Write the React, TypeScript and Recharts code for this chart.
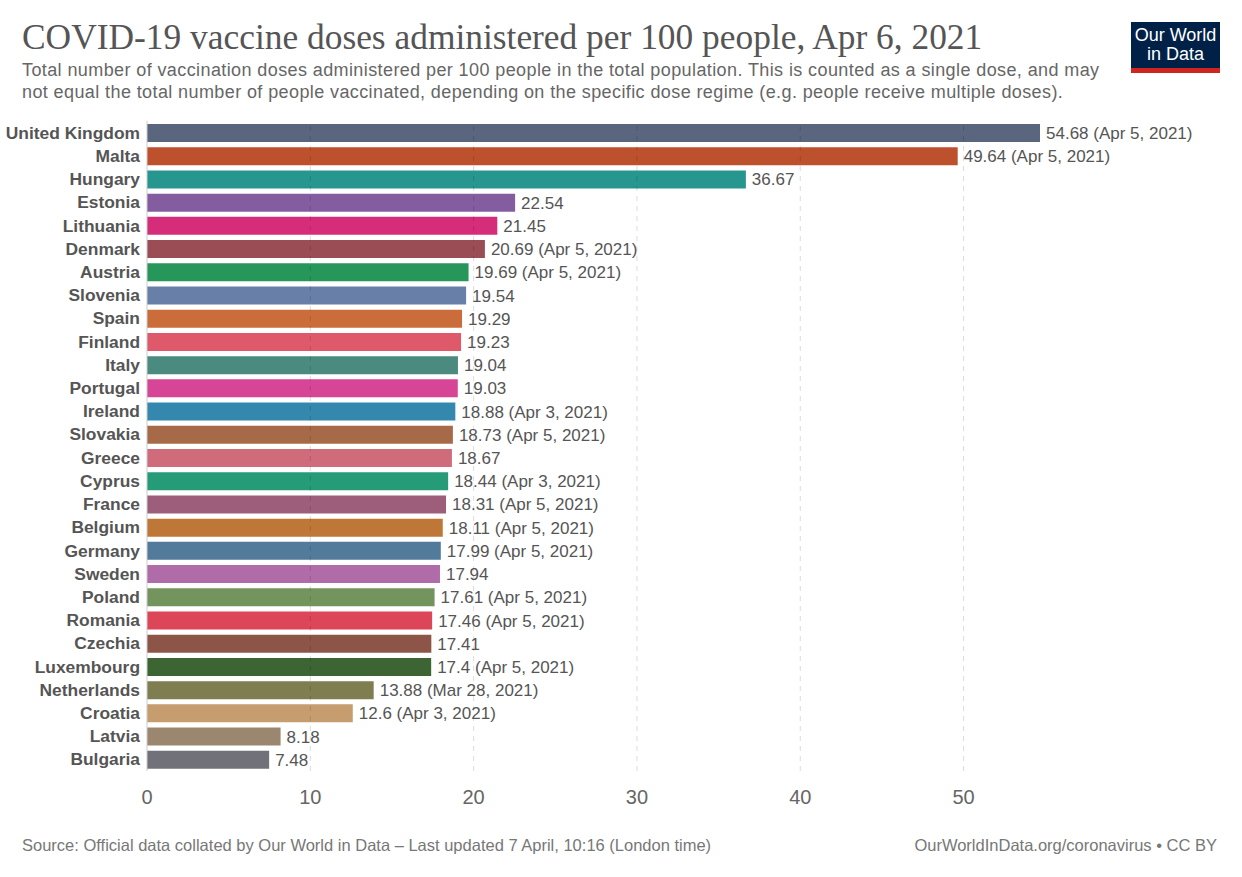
import React from 'react';
import {
  BarChart,
  Bar,
  XAxis,
  YAxis,
  LabelList,
  Cell,
  ReferenceLine
} from 'recharts';

const countries = [
  'United Kingdom', 'Malta', 'Hungary', 'Estonia', 'Lithuania', 'Denmark', 'Austria',
  'Slovenia', 'Spain', 'Finland', 'Italy', 'Portugal', 'Ireland', 'Slovakia', 'Greece',
  'Cyprus', 'France', 'Belgium', 'Germany', 'Sweden', 'Poland', 'Romania', 'Czechia',
  'Luxembourg', 'Netherlands', 'Croatia', 'Latvia', 'Bulgaria'
];

const doses = [
  54.68, 49.64, 36.67, 22.54, 21.45, 20.69, 19.69,
  19.54, 19.29, 19.23, 19.04, 19.03, 18.88, 18.73, 18.67,
  18.44, 18.31, 18.11, 17.99, 17.94, 17.61, 17.46, 17.41,
  17.4, 13.88, 12.6, 8.18, 7.48
];

const dates = [
  'Apr 5, 2021', 'Apr 5, 2021', '', '', '', 'Apr 5, 2021', 'Apr 5, 2021',
  '', '', '', '', '', 'Apr 3, 2021', 'Apr 5, 2021', '',
  'Apr 3, 2021', 'Apr 5, 2021', 'Apr 5, 2021', 'Apr 5, 2021', '', 'Apr 5, 2021', 'Apr 5, 2021', '',
  'Apr 5, 2021', 'Mar 28, 2021', 'Apr 3, 2021', '', ''
];

const colors = [
  '#59667e', '#be512d', '#26968f', '#845ca0', '#d62d7a', '#9a4d55', '#27965a',
  '#6880a8', '#cb6d3a', '#de5a6b', '#4b8a7e', '#d64596', '#3487ad', '#a66a48', '#cf6b7b',
  '#269b78', '#9c5e7b', '#bf7737', '#527a9b', '#b06ca8', '#73955d', '#dd4558', '#8c5547',
  '#3d6433', '#7f7e50', '#c69d6f', '#9b8770', '#707179'
];

const xTicks = [0, 10, 20, 30, 40, 50];

const data = countries.map((name, i) => ({
  name,
  value: doses[i],
  label: dates[i] ? `${doses[i]} (${dates[i]})` : `${doses[i]}`
}));

const sans = '"Liberation Sans", Arial, Helvetica, sans-serif';

const CountryTick = (props: any) => {
  const { y, payload } = props;
  return (
    <text
      x={140}
      y={y}
      dy="0.35em"
      textAnchor="end"
      fontFamily={sans}
      fontSize={17.4}
      fontWeight="bold"
      fill="#555"
    >
      {payload.value}
    </text>
  );
};

const ValueTick = (props: any) => {
  const { x, y, payload } = props;
  return (
    <text x={x} y={y + 25} textAnchor="middle" fontFamily={sans} fontSize={20} fill="#666">
      {payload.value}
    </text>
  );
};

export default function App() {
  return (
    <div style={{ position: 'absolute', top: 0, left: 0, width: 1242, height: 877, background: '#fff' }}>
      <div
        style={{
          position: 'absolute',
          left: 22,
          top: 16,
          fontFamily: '"Liberation Serif", "DejaVu Serif", serif',
          fontSize: 35.4,
          color: '#555',
          whiteSpace: 'nowrap'
        }}
      >
        COVID-19 vaccine doses administered per 100 people, Apr 6, 2021
      </div>
      <div
        style={{
          position: 'absolute',
          left: 22,
          top: 59,
          fontFamily: sans,
          fontSize: 18,
          letterSpacing: 0.4,
          lineHeight: '22px',
          color: '#666',
          whiteSpace: 'nowrap'
        }}
      >
        Total number of vaccination doses administered per 100 people in the total population. This is counted as a single dose, and may
        <br />
        not equal the total number of people vaccinated, depending on the specific dose regime (e.g. people receive multiple doses).
      </div>

      <div
        style={{
          position: 'absolute',
          left: 1131,
          top: 22,
          width: 89,
          height: 51,
          background: '#002147',
          borderBottom: '5px solid #ce261e',
          boxSizing: 'border-box',
          color: '#fff',
          fontFamily: sans,
          fontSize: 18,
          lineHeight: '19px',
          textAlign: 'center',
          paddingTop: 4
        }}
      >
        Our World
        <br />
        in Data
      </div>

      <div style={{ position: 'absolute', left: 0, top: 0 }}>
        <BarChart
          width={1242}
          height={877}
          data={data}
          layout="vertical"
          margin={{ top: 121, right: 202, bottom: 66, left: 0 }}
        >
          <XAxis
            type="number"
            dataKey="value"
            domain={[0, 'dataMax']}
            ticks={xTicks}
            axisLine={false}
            tickLine={false}
            height={40}
            tick={<ValueTick />}
          />
          <YAxis
            type="category"
            dataKey="name"
            width={147}
            axisLine={{ stroke: '#cccccc' }}
            tickLine={false}
            interval={0}
            tick={<CountryTick />}
          />
          <Bar dataKey="value" barSize={18} isAnimationActive={false}>
            {data.map((d, i) => (
              <Cell key={d.name} fill={colors[i]} />
            ))}
            <LabelList
              dataKey="label"
              position="right"
              offset={6}
              fontFamily={sans}
              fontSize={17}
              fill="#555"
            />
          </Bar>
          {xTicks.slice(1).map((t) => (
            <ReferenceLine
              key={t}
              x={t}
              stroke="#000"
              strokeOpacity={0.14}
              strokeDasharray="5 5"
            />
          ))}
        </BarChart>
      </div>

      <div
        style={{
          position: 'absolute',
          left: 22,
          top: 836,
          fontFamily: sans,
          fontSize: 16.5,
          color: '#777',
          whiteSpace: 'nowrap'
        }}
      >
        Source: Official data collated by Our World in Data – Last updated 7 April, 10:16 (London time)
      </div>
      <div
        style={{
          position: 'absolute',
          right: 25,
          top: 836,
          fontFamily: sans,
          fontSize: 16.5,
          color: '#777',
          whiteSpace: 'nowrap'
        }}
      >
        OurWorldInData.org/coronavirus • CC BY
      </div>
    </div>
  );
}
